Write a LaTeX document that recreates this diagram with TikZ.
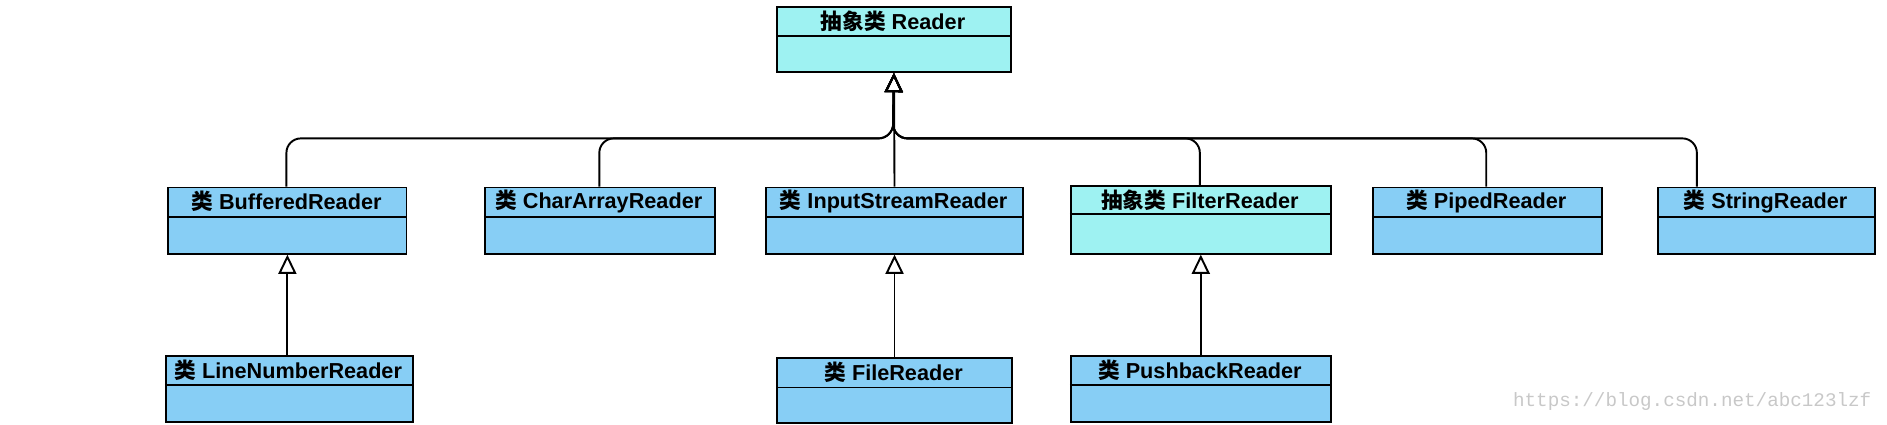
\documentclass[tikz,border=0pt]{standalone}
\usepackage{fontspec}
\setmainfont{Liberation Sans}
\newfontfamily\cjk{Noto Sans CJK SC}
\newfontfamily\mono{Liberation Mono}
\usetikzlibrary{arrows.meta}
\definecolor{clsblue}{RGB}{135,206,245}
\definecolor{clscyan}{RGB}{158,242,242}
\definecolor{wmark}{RGB}{200,200,200}

% class box: name, x1, y1, x2, y2, divider y, fill, text
\newcommand\umlcls[8]{%
  \node[draw, thick, fill=#7, inner sep=0pt, anchor=north west,
        minimum width={(#4-#2)*0.5pt}, minimum height={(#5-#3)*0.5pt}] (#1) at (#2,#3) {};
  \draw[thick] (#2,#6) -- (#4,#6);
  \node[font=\fontsize{9}{10}\selectfont\bfseries] (#1-t) at ({(#2+#4)/2},{(#3+#6)/2}) {#8};
}

\begin{document}
\begin{tikzpicture}[x=0.5pt, y=-0.5pt, inherit/.style={thick, -{Triangle[open, width=7.5pt, length=8pt]}, rounded corners=6pt}]
    \useasboundingbox (0,0) rectangle (1568,353);

    \umlcls{reader}{645}{5}{839}{59}{30}{clscyan}{{\cjk 抽象类} Reader}

    \umlcls{buffered}{139}{155}{337}{210}{180}{clsblue}{{\cjk 类} BufferedReader}
    \umlcls{chararray}{402}{155}{593}{210}{180}{clsblue}{{\cjk 类} CharArrayReader}
    \umlcls{inputstream}{636}{155}{849}{210}{180}{clsblue}{{\cjk 类} InputStreamReader}
    \umlcls{filter}{889}{154}{1105}{210}{178}{clscyan}{{\cjk 抽象类} FilterReader}
    \umlcls{piped}{1140}{155}{1330}{210}{180}{clsblue}{{\cjk 类} PipedReader}
    \umlcls{string}{1377}{155}{1557}{210}{180}{clsblue}{{\cjk 类} StringReader}

    \umlcls{linenumber}{137}{295}{342}{350}{320}{clsblue}{{\cjk 类} LineNumberReader}
    \umlcls{file}{645}{297}{840}{351}{322}{clsblue}{{\cjk 类} FileReader}
    \umlcls{pushback}{889}{295}{1105}{350}{320}{clsblue}{{\cjk 类} PushbackReader}

    % generalisation to Reader
    \foreach \cls/\cx in {buffered/238, chararray/498, filter/997, piped/1235, string/1410}
        \draw[inherit] (\cls.north -| \cx,155) -- (\cx,115) -- (742,115) -- (reader.south);
    \draw[inherit] (inputstream.north) -- (reader.south);

    \draw[inherit] (linenumber.north -| buffered.south) -- (buffered.south);
    \draw[inherit] (file.north -| inputstream.south) -- (inputstream.south);
    \draw[inherit] (pushback.north -| filter.south) -- (filter.south);

    \node[text=wmark, font=\mono\fontsize{8}{9}\selectfont, anchor=east] (wm) at (1562,334) {https://blog.csdn.net/abc123lzf};
\end{tikzpicture}
\end{document}
